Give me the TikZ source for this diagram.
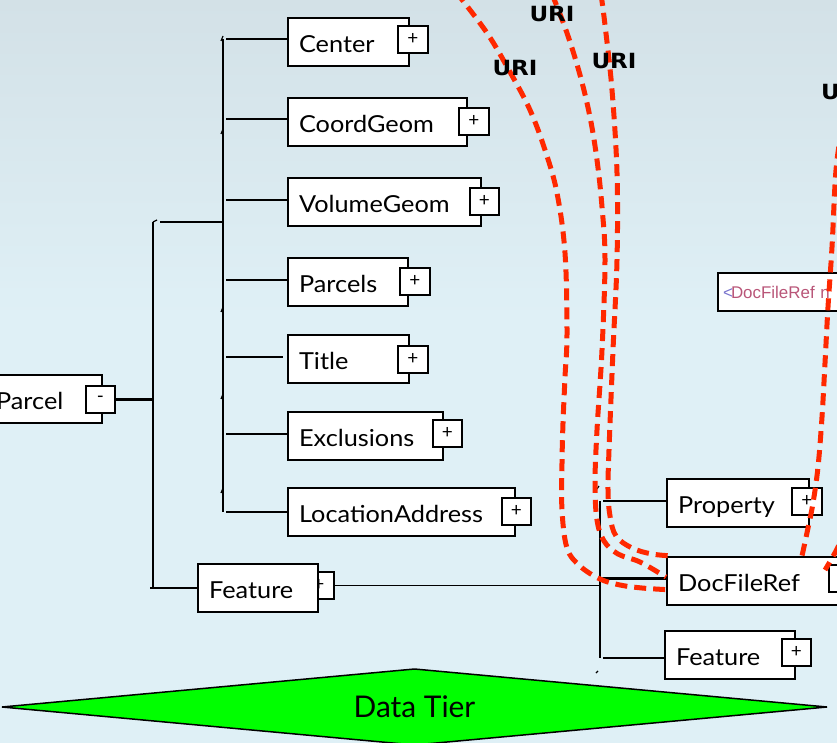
\documentclass[tikz,border=0pt]{standalone}
\usepackage{fontspec}
\setmainfont{Lato}[FakeStretch=1.08]
\newfontfamily\tierfont{Lato}
\newfontfamily\urifont{DejaVu Sans}
\newfontfamily\notefont{Liberation Sans}

\definecolor{bgtop}{RGB}{211,225,231}
\definecolor{bgbot}{RGB}{223,240,246}
\definecolor{linkred}{RGB}{255,40,0}
\definecolor{tiergreen}{RGB}{0,255,0}
\definecolor{notepink}{RGB}{185,85,120}
\definecolor{notepurple}{RGB}{120,115,205}

\tikzset{
  elem/.style={draw=black, fill=white, line width=2.2bp, anchor=north west,
    minimum height=48bp, inner xsep=11bp, inner ysep=0pt, align=left,
    text height=21bp, text depth=0bp, font=\fontsize{23.5}{26}\selectfont},
  expander/.style={draw=black, fill=white, line width=1.8bp, anchor=north west,
    minimum width=30bp, minimum height=27bp, inner sep=0pt,
    font=\tierfont\fontsize{19}{19}\selectfont},
  wire/.style={draw=black, line width=2.4bp},
  thinwire/.style={draw=black, line width=1.5bp},
  tickmark/.style={draw=black, line width=1.2bp},
  urilink/.style={draw=linkred, line width=5bp, dash pattern=on 12bp off 7bp},
  urilabel/.style={font=\urifont\bfseries\fontsize{21}{21}\selectfont, inner sep=0pt},
}
\newcommand\uritext{\scalebox{1.1}[1]{URI}}

\begin{document}
\begin{tikzpicture}[x=1bp,y=-1bp]
\useasboundingbox (0,0) rectangle (837,743);
\clip (0,0) rectangle (837,743);

% background
\shade[top color=bgtop, bottom color=bgbot] (0,0) rectangle (837,320);
\fill[bgbot] (0,319) rectangle (837,743);

% root element
\node[elem, text width=95bp] (parcel) at (-16,374) {Parcel};
\node[expander, minimum width=29bp] (parcelm) at (85,385) {-};

% child elements of the sequence
\node[elem, text width=99bp]  (center)  at (287,17)  {Center};
\node[elem, text width=157bp] (coord)   at (287,97)  {CoordGeom};
\node[elem, text width=171bp] (vol)     at (287,177) {VolumeGeom};
\node[elem, text width=98bp]  (parcels) at (287,257) {Parcels};
\node[elem, text width=99bp]  (title)   at (287,334) {Title};
\node[elem, text width=133bp] (excl)    at (287,411) {Exclusions};
\node[elem, text width=205bp] (loc)     at (287,487) {LocationAddress};

\node[expander] (centerp)  at (397,25)  {+};
\node[expander] (coordp)   at (458,107) {+};
\node[expander, minimum width=29bp] (volp) at (469,187) {+};
\node[expander] (parcelsp) at (399,267) {+};
\node[expander] (titlep)   at (397,345) {+};
\node[expander, minimum width=29bp] (exclp) at (432,419) {+};
\node[expander, minimum width=29bp] (locp)  at (501,497) {+};

% Feature element, expander tucked behind the box
\node[expander] (featLp) at (303,571) {+};
\node[elem, text width=98bp] (featL) at (197,563) {Feature};

% Feature children
\node[elem, text width=120bp] (prop) at (666,478) {Property};
\node[elem, text width=162bp] (doc) at (666,556) {DocFileRef};
\node[elem, text width=108bp] (featR) at (664,630) {Feature};
\node[expander] (propp) at (791,487) {+};
\node[expander] (docp)  at (828,564) {+};
\node[expander, minimum width=29bp] (featRp) at (781,638) {+};

% annotation box
\node[draw=black, fill=white, line width=2.2bp, anchor=north west,
      minimum height=38bp, text width=150bp, inner xsep=5bp, inner ysep=0pt,
      align=left, font=\notefont\fontsize{17}{17}\selectfont]
  (docnote) at (717,272)
  {{\color{notepurple}\textless}\hspace{-2bp}{\color{notepink}DocFileRef n}};

% connectors of the left tree
\coordinate (busLtop) at (153,222);
\coordinate (busLbot) at (featL.west -| busLtop);
\coordinate (busMtop) at ([yshift=3bp]center.west -| 223,0);
\coordinate (busMbot) at (loc.west -| busMtop);
\coordinate (busMjoin) at (busLtop -| busMtop);

\draw[wire] (parcelm.east) -- (parcelm.east -| busLtop);
\draw[wire] (busLtop) -- (busLbot);
\draw[wire] ([xshift=-3bp]busLbot) -- (featL.west);
\draw[wire] ([xshift=7bp]busLtop) -- (busMjoin);
\draw[tickmark] (busLtop) -- ++(4,-2);
\draw[wire] (busMtop) -- (busMbot);
\foreach \n/\dy in {center/3, coord/3, vol/2, parcels/2, excl/2, loc/0}
  \draw[wire] ([yshift=\dy bp]\n.west -| 226,0) -- ([yshift=\dy bp]\n.west);
\draw[wire] ([yshift=2bp]title.west -| 226,0) -- ([yshift=2bp,xshift=-4bp]title.west);
\foreach \ty in {38,131,309,396,490}
  \draw[tickmark] (221,\ty+3) -- ++(2,-5);

% connectors of the right tree
\coordinate (busRtop) at ([yshift=2bp]prop.west -| 600,0);
\coordinate (busRbot) at ([yshift=-3bp]featR.west -| busRtop);
\draw[thinwire] (featLp.east) -- (featLp.east -| busRtop);
\draw[wire] (busRtop) -- (busRbot);
\draw[wire] ([xshift=3bp]busRtop) -- ([yshift=2bp]prop.west);
\draw[wire] ([yshift=2.5bp]doc.west -| busRtop) -- ([yshift=2.5bp]doc.west);
\draw[wire] ([xshift=3bp]busRbot) -- ([yshift=-3bp]featR.west);
\draw[tickmark] (597,489) -- ++(2,-3);
\draw[tickmark] (596,673) -- ++(2,-2);

% URI reference links
\coordinate (linkA) at ([yshift=-8.5bp]doc.west);
\coordinate (linkB) at ([yshift=4bp]doc.west);
\coordinate (linkC) at ([xshift=7bp]doc.north west);
\coordinate (linkD) at (doc.north -| 802,0);
\coordinate (linkE) at ([xshift=-3bp,yshift=-6bp]docp.north west);

\draw[urilink] plot[smooth, tension=0.6] coordinates {
  (456,-8) (487,33) (510,72) (530,110) (545,150) (557,193) (565,253)
  (567,333) (565,377) (563,423) (562,463) (562,510) (567,548) (580,566)
  (600,579) (620,585) (642,588) (linkA)};
\draw[urilink] plot[smooth, tension=0.6] coordinates {
  (552,-6) (567,33) (580,75) (590,117) (597,160) (602,207) (605,260)
  (602,350) (597,430) (595,483) (597,520) (604,541) (618,554) (640,562)
  (linkB)};
\draw[urilink] plot[smooth, tension=0.6] coordinates {
  (601,-6) (605,25) (612,90) (617,173) (617,260) (613,350) (609,450)
  (608,490) (610,516) (616,536) (632,548) (652,554) (linkC)};
\draw[urilink] plot[smooth, tension=0.6] coordinates {
  (842,128) (836,170) (832,247) (828,307) (825,363) (822,417) (818,467)
  (813,503) (808,528) (linkD)};
\draw[urilink] plot[smooth, tension=0.6] coordinates {
  (846,528) (837,549) (linkE)};

\node[urilabel] (uri1) at (552,14) {\uritext};
\node[urilabel] (uri2) at (515,68) {\uritext};
\node[urilabel] (uri3) at (614,61) {\uritext};
\node[urilabel, anchor=west] (uri4) at (821,92) {\uritext};

% tier banner
\coordinate (tierL) at (2,707);
\coordinate (tierT) at (414.5,669);
\coordinate (tierR) at (827,707);
\coordinate (tierB) at (414.5,745);
\filldraw[draw=black, fill=tiergreen, line width=1.5bp]
  (tierL) -- (tierT) -- (tierR) -- (tierB) -- cycle;
\node[font=\tierfont\fontsize{30}{30}\selectfont] (tier) at (414.5,707) {Data Tier};
\end{tikzpicture}
\end{document}
